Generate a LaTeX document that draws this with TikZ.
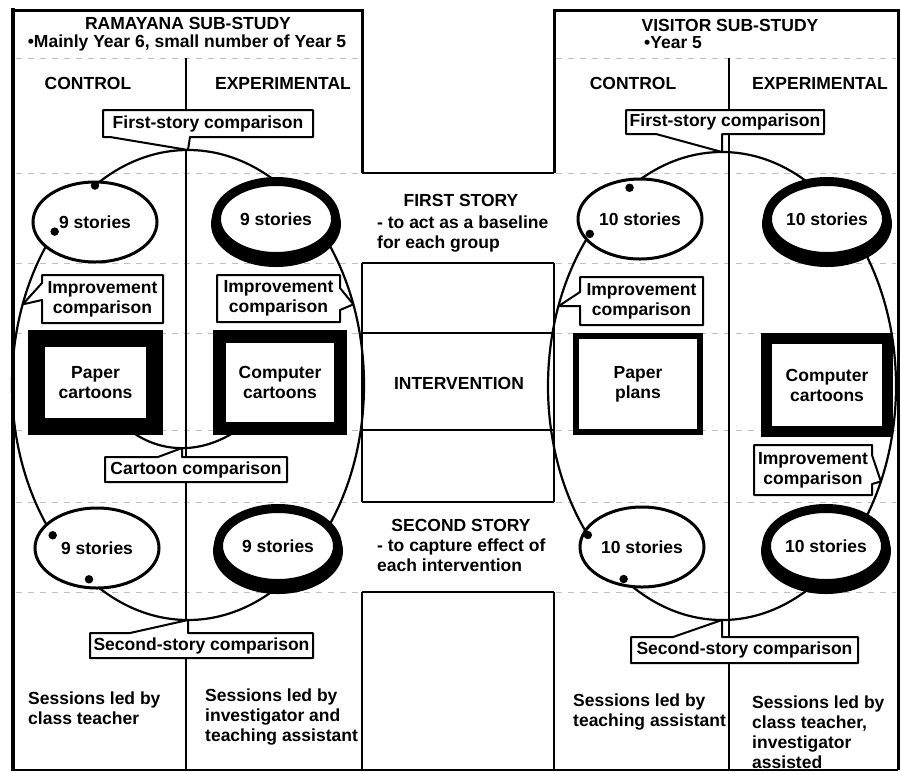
\documentclass[tikz,border=0pt]{standalone}
\usepackage{fontspec}
\setmainfont{Liberation Sans}
\usetikzlibrary{shapes.geometric}
\pgfdeclarelayer{background}
\pgfdeclarelayer{front}
\pgfsetlayers{background,main,front}

\begin{document}
\begin{tikzpicture}[
  x=1pt, y=-1pt,
  font=\fontsize{17.5}{20}\selectfont\bfseries,
  panel/.style={line width=3pt},
  band/.style={line width=2.6pt},
  faint/.style={gray!50, line width=1pt, dash pattern=on 6pt off 6pt},
  divider/.style={line width=1.1pt},
  bigring/.style={ellipse, draw, line width=2.2pt, inner sep=0pt, outer sep=0pt},
  ctrlstory/.style={ellipse, draw, fill=white, line width=3pt, inner sep=0pt, outer sep=0pt,
      minimum width=124pt, minimum height=80pt},
  expstory/.style={ellipse, draw, fill=white, line width=9pt, inner sep=0pt, outer sep=0pt,
      minimum width=119pt, minimum height=75pt},
  medium/.style={draw, fill=white, align=center, inner sep=0pt, outer sep=0pt},
  calltext/.style={align=center, inner sep=0pt, outer sep=0pt},
  calloutline/.style={draw, fill=white, line width=2pt, line join=round},
  joint/.style={circle, fill=black, inner sep=0pt, minimum size=8.5pt},
  txt/.style={inner sep=0pt}
]
\useasboundingbox (0,0) rectangle (901,772);

\begin{pgfonlayer}{background}
  \fill[white] (0,0) rectangle (901,772);
  % faint row rules across both sub-study panels
  \foreach \yy in {58,173,263,333,430,502,592} {
    \draw[faint] (16,\yy) -- (360,\yy);
    \draw[faint] (556,\yy) -- (896,\yy);
  }
  % control / experimental dividers
  \draw[divider] (186,58) -- (186,770);
  \draw[divider] (729,58) -- (729,770);
  % panel frames
  \draw[line width=4.5pt] (13,8) -- (13,771);
  \draw[panel] (13,10) -- (362,10) -- (362,173);
  \draw[panel] (554,173) -- (554,10) -- (898,10) -- (898,770);
  \draw[line width=1.5pt] (13,770) -- (898,770);
  % middle column rows
  \draw[band] (362,173) -- (554,173);
  \foreach \yy in {263,333,430,502,592} \draw[band] (362,\yy) -- (554,\yy);
  \draw[band] (362,263) -- (362,502) (554,263) -- (554,502)
              (362,592) -- (362,770) (554,592) -- (554,770);
  % loops joining the four story groups of each sub-study
  \node[bigring, minimum width=352pt, minimum height=470pt] (bigL) at (188,385) {};
  \node[bigring, minimum width=348pt, minimum height=468pt] (bigR) at (722,386) {};
\end{pgfonlayer}

% story groups
\node[ctrlstory] (s1c) at (95,222) {9 stories};
\node[expstory]  (s1e) at (276,219) {9 stories};
\node[ctrlstory] (s2c) at (97,548) {9 stories};
\node[expstory]  (s2e) at (278,546) {9 stories};
\node[ctrlstory] (v1c) at (640,219) {10 stories};
\node[expstory]  (v1e) at (827,219) {10 stories};
\node[ctrlstory] (v2c) at (642,547) {10 stories};
\node[expstory]  (v2e) at (826,546) {10 stories};

% heavier lower rim of the experimental groups
\begin{pgfonlayer}{background}
  \foreach \g in {s1e,s2e,v1e,v2e}
    \fill ([yshift=-5pt]\g.center) ellipse [x radius=65pt, y radius=43pt];
\end{pgfonlayer}

% interventions
\node[medium, line width=17pt, minimum width=118pt, minimum height=88pt] (paperL) at (95.5,382.5) {Paper\\cartoons};
\node[medium, line width=13pt, minimum width=121pt, minimum height=92pt] (compL) at (280,382.5) {Computer\\cartoons};
\node[medium, line width=6pt, minimum width=124pt, minimum height=96pt] (paperR) at (638,384) {Paper\\plans};
\node[medium, line width=11pt, minimum width=121pt, minimum height=93pt] (compR) at (827,385) {Computer\\cartoons};

\begin{pgfonlayer}{background}
  \draw[line width=2.2pt] (paperL.center) .. controls (130,470) and (230,470) .. (compL.center);
\end{pgfonlayer}
\coordinate (ccl) at (182,448);

% joints where the loops enter the control groups
\node[joint] (jL1) at (bigL.115) {};
\node[joint] (jL2) at (bigL.131) {};
\node[joint] (jL3) at (bigL.228) {};
\node[joint] (jL4) at (bigL.243) {};
\node[joint] (jR1) at (bigR.115) {};
\node[joint] (jR2) at (bigR.131) {};
\node[joint] (jR3) at (bigR.228) {};
\node[joint] (jR4) at (bigR.243) {};

% comparison callouts
\begin{pgfonlayer}{front}
  \node[calltext, minimum width=210pt, minimum height=27pt] (fs1) at (208,123.5) {First-story comparison};
  \node[calltext, minimum width=121pt, minimum height=48pt] (ic1) at (102.5,299) {Improvement\\comparison};
  \node[calltext, minimum width=123pt, minimum height=47pt] (ic2) at (278.5,298.5) {Improvement\\comparison};
  \node[calltext, minimum width=182pt, minimum height=25pt] (cc1) at (196,469.5) {Cartoon comparison};
  \node[calltext, minimum width=223pt, minimum height=25pt] (ss1) at (201.5,645.5) {Second-story comparison};
  \node[calltext, minimum width=198pt, minimum height=24pt] (fs2) at (725,122) {First-story comparison};
  \node[calltext, minimum width=123pt, minimum height=48pt] (ic3) at (641.5,301) {Improvement\\comparison};
  \node[calltext, minimum width=118pt, minimum height=50pt] (ic4) at (813,470) {Improvement\\comparison};
  \node[calltext, minimum width=227pt, minimum height=26pt] (ss2) at (744.5,650) {Second-story comparison};
\end{pgfonlayer}

\draw[calloutline] (fs1.north west) -- (fs1.north east) -- (fs1.south east)
  -- ([xshift=-123pt]fs1.south east) -- (bigL.north) -- ([xshift=7pt]fs1.south west)
  -- (fs1.south west) -- cycle;
\draw[calloutline] (ic1.north west) -- (ic1.north east) -- (ic1.south east) -- (ic1.south west)
  -- ([yshift=23pt]ic1.south west) -- (bigL.154) -- ([yshift=-8pt]ic1.north west) -- cycle;
\draw[calloutline] (ic2.north west) -- (ic2.north east) -- ([yshift=-13pt]ic2.north east)
  -- (bigL.26) -- ([yshift=12pt]ic2.south east) -- (ic2.south east) -- (ic2.south west) -- cycle;
\draw[calloutline] (cc1.south west) -- (cc1.north west) -- ([xshift=53pt]cc1.north west)
  -- (ccl) -- ([xshift=-105pt]cc1.north east) -- (cc1.north east) -- (cc1.south east) -- cycle;
\draw[calloutline] (ss1.south west) -- (ss1.north west) -- ([xshift=40pt]ss1.north west)
  -- (bigL.south) -- ([xshift=-125pt]ss1.north east) -- (ss1.north east) -- (ss1.south east) -- cycle;
\draw[calloutline] (fs2.north west) -- (fs2.north east) -- (fs2.south east)
  -- ([xshift=-102pt]fs2.south east) -- (bigR.north) -- ([xshift=30pt]fs2.south west)
  -- (fs2.south west) -- cycle;
\draw[calloutline] (ic3.north west) -- (ic3.north east) -- (ic3.south east) -- (ic3.south west)
  -- ([yshift=19pt]ic3.south west) -- (bigR.154) -- ([yshift=-15pt]ic3.north west) -- cycle;
\draw[calloutline] (ic4.north west) -- (ic4.north east) -- ([yshift=-10pt]ic4.north east)
  -- (bigR.-31) -- ([yshift=11pt]ic4.south east) -- (ic4.south east) -- (ic4.south west) -- cycle;
\draw[calloutline] (ss2.south west) -- (ss2.north west) -- ([xshift=42pt]ss2.north west)
  -- (bigR.south) -- ([xshift=-136pt]ss2.north east) -- (ss2.north east) -- (ss2.south east) -- cycle;

% headings
\node[txt] (t1) at (188,23) {RAMAYANA SUB-STUDY};
\node[txt] (t2) at (187,43) {\textbullet Mainly Year 6, small number of Year 5};
\node[txt] (h1) at (88,83) {CONTROL};
\node[txt] (h2) at (283,83) {EXPERIMENTAL};
\node[txt] (t3) at (730,25) {VISITOR SUB-STUDY};
\node[txt, anchor=west] (t4) at (644,43) {\textbullet Year 5};
\node[txt] (h3) at (633,83) {CONTROL};
\node[txt] (h4) at (820,83) {EXPERIMENTAL};

% row labels
\node[txt] (m1) at (461,200) {FIRST STORY};
\node[txt, align=left, anchor=west] (m2) at (377,234) {- to act as a baseline\\for each group};
\node[txt] (m3) at (459,383) {INTERVENTION};
\node[txt] (m4) at (461,525) {SECOND STORY};
\node[txt, align=left, anchor=west] (m5) at (377,555) {- to capture effect of\\each intervention};

% session notes
\node[txt, align=left, anchor=west] (b1) at (28,708) {Sessions led by\\class teacher};
\node[txt, align=left, anchor=west] (b2) at (205,717) {Sessions led by\\investigator and\\teaching assistant};
\node[txt, align=left, anchor=west] (b3) at (573,712) {Sessions led by\\teaching assistant};
\node[txt, align=left, anchor=west] (b4) at (752,732) {Sessions led by\\class teacher,\\investigator\\assisted};
\end{tikzpicture}
\end{document}
